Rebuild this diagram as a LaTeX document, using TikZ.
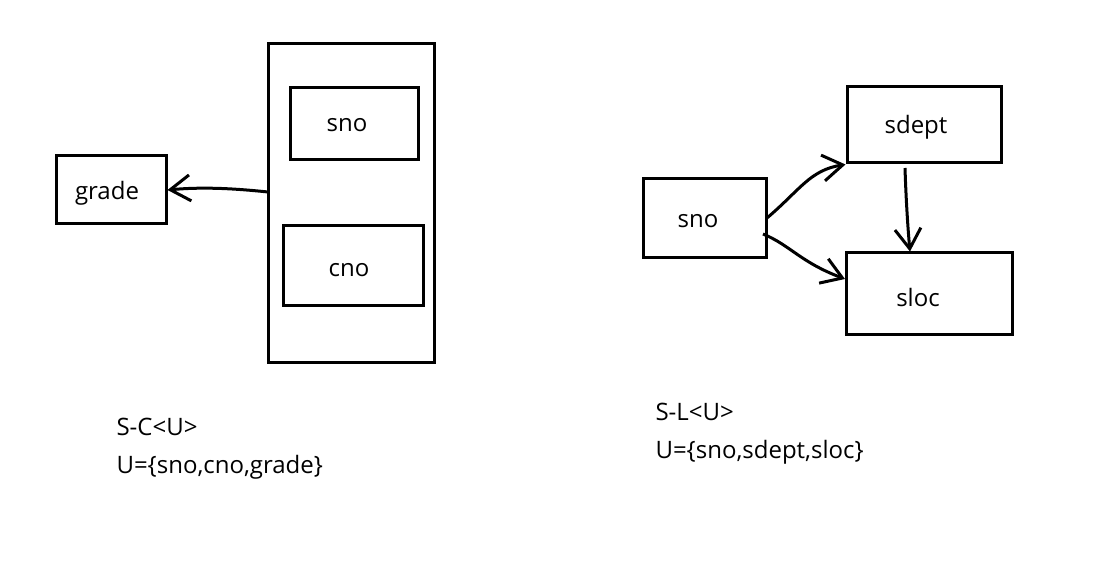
\documentclass[tikz,border=0pt]{standalone}
\usepackage{fontspec}
\setmainfont{Open Sans}
\usetikzlibrary{arrows.meta}
\begin{document}
\begin{tikzpicture}[x=1pt,y=-1pt,
  box/.style={draw,line width=3pt,inner sep=0pt},
  lbl/.style={font=\fontsize{24}{28}\selectfont},
  conn/.style={line width=3pt,-{Straight Barb[length=20pt,width=26pt,line width=3pt]}},
  note/.style={font=\fontsize{24}{28}\selectfont,anchor=west}]
\useasboundingbox (0,0) rectangle (1116,577);
% left part
\node[box,minimum width=110pt,minimum height=68pt] (grade) at (111,190) {};
\node[lbl] at (107,193) {grade};
\node[box,minimum width=166pt,minimum height=318pt] (big) at (351,203) {};
\node[box,minimum width=128pt,minimum height=72pt] (sno1) at (354,124) {};
\node[lbl] at (347,125) {sno};
\node[box,minimum width=140pt,minimum height=79pt] (cno) at (353,265.5) {};
\node[lbl] at (349,270) {cno};
\coordinate (a1) at (268,192);
\draw[conn] (a1) .. controls (230,188) and (200,187) .. (grade.east);
% right part
\node[box,minimum width=123pt,minimum height=79pt] (sno2) at (704.5,218.5) {};
\node[lbl] at (698,221) {sno};
\node[box,minimum width=154pt,minimum height=76pt] (sdept) at (924,125) {};
\node[lbl] at (916,127) {sdept};
\node[box,minimum width=166pt,minimum height=81pt] (sloc) at (929,293.5) {};
\node[lbl] at (918,297) {sloc};
\coordinate (b1) at (767,218);
\coordinate (b2) at (763,234);
\coordinate (b3) at (905,168);
\draw[conn] (b1) .. controls (800,190) and (810,170) .. (sdept.south west);
\draw[conn] (b2) .. controls (790,245) and (800,262) .. (845,279);
\draw[conn] (b3) .. controls (906,200) and (908,230) .. (sloc.north -| 910,0);
% notes
\node[note] (t1) at (113,427) {S-C<U>};
\node[note] (t2) at (113,467) {U=\{sno,cno,grade\}};
\node[note] (t3) at (652,412) {S-L<U>};
\node[note] (t4) at (652,452) {U=\{sno,sdept,sloc\}};
\end{tikzpicture}
\end{document}
